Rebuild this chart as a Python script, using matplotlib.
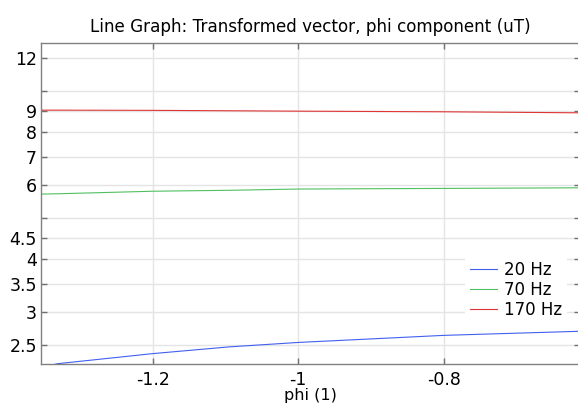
import matplotlib
matplotlib.use("Agg")
import matplotlib.pyplot as plt

# values (log y axis)
phi = [-1.354, -1.331, -1.2, -1.094, -1.0, -0.8, -0.612]
b_20hz = [2.215, 2.262, 2.39, 2.48, 2.54, 2.64, 2.70]
b_70hz = [5.71, 5.72, 5.80, 5.83, 5.87, 5.89, 5.91]
b_170hz = [9.03, 9.03, 9.02, 9.00, 8.98, 8.95, 8.90]
labels = ["20 Hz", "70 Hz", "170 Hz"]
colors = ["#4060f0", "#50c060", "#e03535"]

yticks = [2.5, 3, 3.5, 4, 4.5, 5, 6, 7, 8, 9, 10, 12]
yticklabels = ["2.5", "3", "3.5", "4", "4.5", "", "6", "7", "8", "9", "", "12"]
xticks = [-1.2, -1.0, -0.8]
xticklabels = ["-1.2", "-1", "-0.8"]

fig = plt.figure(figsize=(5.78, 4.08), dpi=100)
ax = fig.add_axes([41/578, 44/408, 539/578, 321/408])

for y, lab, c in zip([b_20hz, b_70hz, b_170hz], labels, colors):
    ax.plot(phi, y, color=c, lw=0.8, label=lab)

ax.set_yscale("log")
ax.set_xlim(-1.354, -0.6124)
ax.set_ylim(2.258, 13.03)
ax.minorticks_off()
ax.set_yticks(yticks)
ax.set_yticklabels(yticklabels)
ax.set_xticks(xticks)
ax.set_xticklabels(xticklabels)

ax.grid(True, color="#e4e4e4", lw=1)
ax.set_axisbelow(True)
ax.tick_params(direction="in", length=4, width=1, color="#707070",
               labelsize=12.5, top=True, right=True)
ax.tick_params(axis="y", pad=3)
ax.tick_params(axis="x", pad=5)
for s in ax.spines.values():
    s.set_color("#808080")
    s.set_linewidth(1)

ax.set_title("Line Graph: Transformed vector, phi component (uT)",
             fontsize=12.1, pad=8)
ax.set_xlabel("phi (1)", fontsize=11.5, labelpad=-1)

leg = ax.legend(loc="upper left", bbox_to_anchor=(465/578, 1 - 256/408),
                bbox_transform=fig.transFigure, fontsize=12,
                frameon=True, fancybox=False, framealpha=1,
                handlelength=1.6, handletextpad=0.45, labelspacing=0.12,
                borderpad=0.3, borderaxespad=0)
leg.get_frame().set_edgecolor("none")

fig.savefig("out.png", dpi=100)
